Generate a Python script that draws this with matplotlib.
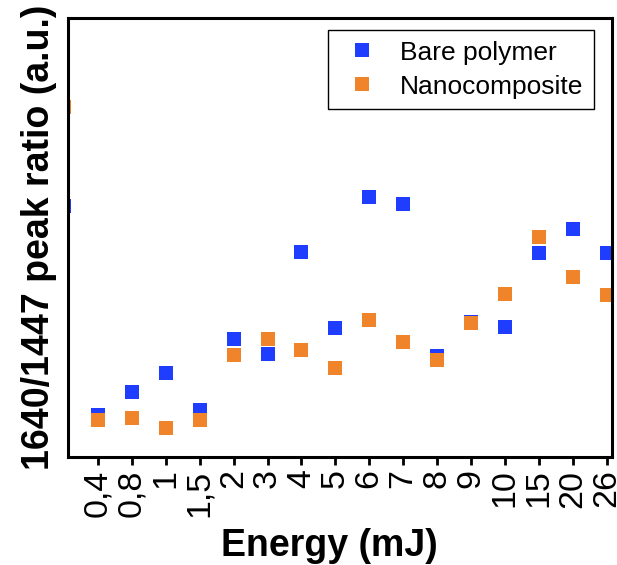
import numpy as np
import matplotlib.pyplot as plt

plt.rcParams['font.family'] = ['Liberation Sans', 'DejaVu Sans']

# energy categories (index 0 sits outside the visible range)
energies = ["0", "0,4", "0,8", "1", "1,5", "2", "3", "4", "5", "6", "7",
            "8", "9", "10", "15", "20", "26"]

# peak ratio values, arbitrary units
bare = [0.572, 0.095, 0.148, 0.191, 0.108, 0.268, 0.234, 0.467, 0.293,
        0.593, 0.577, 0.231, 0.308, 0.297, 0.465, 0.520, 0.465]
nano = [0.798, 0.084, 0.089, 0.065, 0.085, 0.232, 0.268, 0.243, 0.202,
        0.313, 0.263, 0.222, 0.306, 0.372, 0.502, 0.411, 0.368]

blue = '#1f3dff'
orange = '#f0842a'

fig = plt.figure(figsize=(6.17, 5.65), dpi=100)
ax = fig.add_axes([68/617, 1-457/565, 544/617, 439/565])

x = np.arange(len(energies))
ax.plot(x, bare, linestyle='none', marker='s', markersize=9.4,
        color=blue, markeredgewidth=0, label='Bare polymer')
ax.plot(x, nano, linestyle='none', marker='s', markersize=9.4,
        color=orange, markeredgewidth=0, label='Nanocomposite')

ax.set_xlim(0.115, 16.16)
ax.set_ylim(0, 1)
# first category lies left of the frame, so no tick for it
ax.set_xticks(x[1:])
ax.set_xticklabels(energies[1:], rotation=90, fontsize=24.5)
ax.set_yticks([])
ax.tick_params(axis='x', direction='out', length=6, width=2, pad=3)

for s in ax.spines.values():
    s.set_linewidth(2.2)

ax.set_ylabel('1640/1447 peak ratio (a.u.)', fontsize=27, fontweight='bold',
              labelpad=8)
ax.set_xlabel('Energy (mJ)', fontsize=27, fontweight='bold')
ax.xaxis.set_label_coords((329-68)/544, -0.161)

leg = ax.legend(loc='upper left', bbox_to_anchor=(328/617, 1-30/565),
                bbox_transform=fig.transFigure, borderaxespad=0,
                fontsize=19, fancybox=False, edgecolor='black',
                framealpha=1, borderpad=0.4, handlelength=1.78,
                handletextpad=0.55, labelspacing=0.38)
leg.get_frame().set_linewidth(1)

fig.savefig('out.png', dpi=100)
